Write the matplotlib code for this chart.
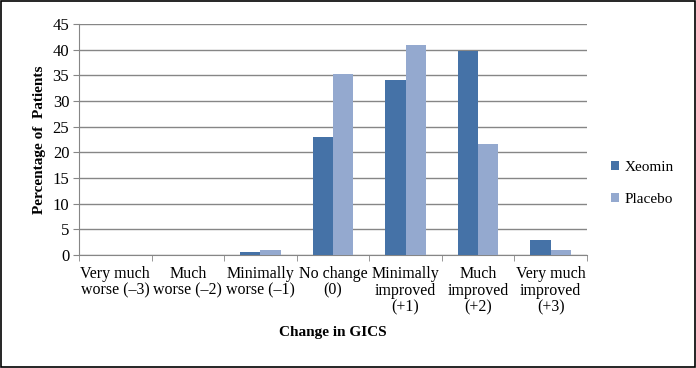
import matplotlib.pyplot as plt
import numpy as np

categories = ["Very much\nworse (\u20133)", "Much\nworse (\u20132)", "Minimally\nworse (\u20131)",
              "No change\n(0)", "Minimally\nimproved\n(+1)", "Much\nimproved\n(+2)",
              "Very much\nimproved\n(+3)"]
xeomin = [0, 0, 0.65, 22.9, 34.0, 39.8, 3.0]
placebo = [0, 0, 1.05, 35.3, 41.0, 21.7, 1.05]

plt.rcParams["font.family"] = ["Liberation Serif", "DejaVu Serif"]

fig = plt.figure(figsize=(6.96, 3.68), dpi=100)
ax = fig.add_axes([79 / 696, 1 - 255 / 368, 508 / 696, 231 / 368])

x = np.arange(len(categories))
w = 0.28
ax.bar(x - w / 2, xeomin, w, color="#4572A7", label="Xeomin", zorder=3)
ax.bar(x + w / 2, placebo, w, color="#94A9CF", label="Placebo", zorder=3)

ax.set_xlim(-0.5, len(categories) - 0.5)
ax.set_ylim(0, 45)
ax.set_yticks(range(0, 46, 5))
ax.yaxis.grid(True, color="#868686", linewidth=1, zorder=0)

ax.set_xticks(x)
ax.set_xticklabels(categories, fontsize=11.5, linespacing=1.05)
ax.set_xticks(np.arange(-0.5, len(categories), 1), minor=True)
ax.tick_params(axis="x", which="major", length=0, pad=8)
ax.tick_params(axis="x", which="minor", length=4, color="#868686")
ax.tick_params(axis="y", length=4, color="#868686", labelsize=12, pad=3)

for s in ["top", "right"]:
    ax.spines[s].set_visible(False)
for s in ["left", "bottom"]:
    ax.spines[s].set_color("#868686")

ax.set_ylabel("Percentage of  Patients", fontsize=11, fontweight="bold", labelpad=5)
ax.set_xlabel("Change in GICS", fontsize=11, fontweight="bold", labelpad=8)

ax.legend(loc="center left", bbox_to_anchor=(1.02, 0.31), frameon=False,
          fontsize=11, handlelength=0.55, handleheight=0.55, labelspacing=1.2,
          handletextpad=0.35)

fig.patches.append(plt.Rectangle((0.002, 0.003), 0.996, 0.994, transform=fig.transFigure,
                                 fill=False, edgecolor="black", linewidth=1.2))

fig.savefig("out.png", dpi=100)
